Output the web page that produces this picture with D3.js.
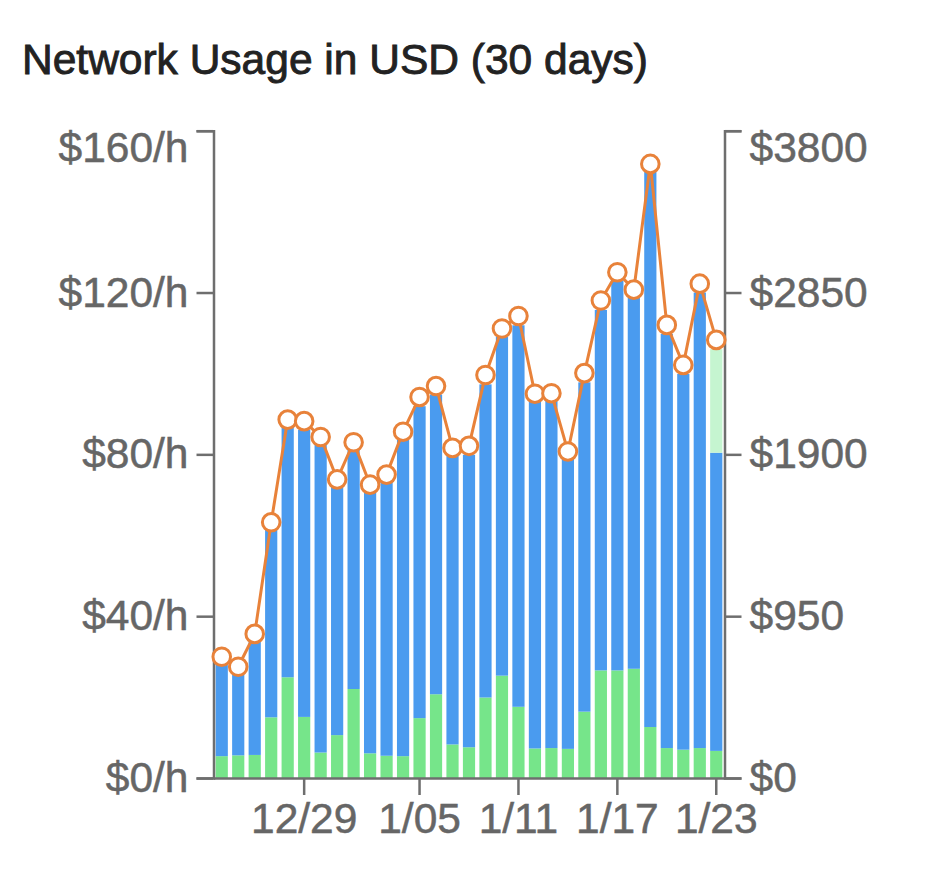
<!DOCTYPE html>
<html>
<head>
<meta charset="utf-8">
<script src="https://cdn.jsdelivr.net/npm/d3@7"></script>
<style>
  body { margin: 0; background: #fff; }
  text { font-family: "Liberation Sans", Arial, sans-serif; }
</style>
</head>
<body>
<div id="chart"></div>
<script>
// days shown on the x axis (12/24 .. 1/23)
const days = ["12/24","12/25","12/26","12/27","12/28","12/29","12/30","12/31","1/01","1/02",
  "1/03","1/04","1/05","1/06","1/07","1/08","1/09","1/10","1/11","1/12",
  "1/13","1/14","1/15","1/16","1/17","1/18","1/19","1/20","1/21","1/22","1/23"];
const tickDays = ["12/29","1/05","1/11","1/17","1/23"];

// hourly cost split ($/h)
const greenVals = [5.4,5.6,5.7,15.0,24.9,15.1,6.3,10.6,22.0,6.1,5.5,5.4,14.8,20.7,8.3,7.6,
  19.9,25.3,17.6,7.3,7.4,7.2,16.4,26.6,26.6,27.0,12.6,7.4,7.0,7.4,6.7];
const blueVals = [23.0,20.7,28.0,46.4,62.1,71.0,76.5,61.5,59.2,64.8,67.8,78.3,77.1,74.1,71.7,72.3,
  77.4,83.8,94.3,85.9,85.8,71.7,81.4,89.1,96.3,91.8,137.5,102.4,92.9,112.6,73.7];
// projected rest of the current day
const projVals = [0,0,0,0,0,0,0,0,0,0,0,0,0,0,0,0,0,0,0,0,0,0,0,0,0,0,0,0,0,0,25.6];
// daily total in USD (right axis)
const dailyVals = [712,653,846,1501,2104,2095,2002,1753,1971,1722,1781,2033,2237,2301,1938,1950,
  2366,2639,2712,2256,2259,1917,2377,2803,2969,2867,3605,2660,2425,2902,2572];

const leftTicks = [0,40,80,120,160];
const rightTicks = [0,950,1900,2850,3800];

const width = 931, height = 896;
const x0 = 213.5, x1 = 724.5, yTop = 130.7, yBot = 778;

const svg = d3.select("#chart").append("svg")
  .attr("width", width).attr("height", height);

svg.append("text")
  .attr("x", 22).attr("y", 74)
  .attr("font-size", 42.5)
  .attr("fill", "#222")
  .attr("stroke", "#222").attr("stroke-width", 0.9)
  .text("Network Usage in USD (30 days)");

const x = d3.scaleBand().domain(days).range([x0, x1])
  .paddingInner(0.26).paddingOuter(0.13);
const y = d3.scaleLinear().domain([0, 160]).range([yBot, yTop]);
const yR = d3.scaleLinear().domain([0, 3800]).range([yBot, yTop]);

const rows = days.map((d, i) => ({ day: d, green: greenVals[i], blue: blueVals[i], proj: projVals[i] }));
const stack = d3.stack().keys(["green", "blue", "proj"])(rows);
const colors = { green: "#76e58a", blue: "#4a9bef", proj: "#c5f5d0" };

svg.append("g").selectAll("g")
  .data(stack)
  .join("g")
    .attr("fill", s => colors[s.key])
  .selectAll("rect")
  .data(s => s)
  .join("rect")
    .attr("x", d => x(d.data.day))
    .attr("width", x.bandwidth())
    .attr("y", d => y(d[1]))
    .attr("height", d => y(d[0]) - y(d[1]));

// axes
function styleAxis(g) {
  g.selectAll("path, line").attr("stroke", "#6e6e6e").attr("stroke-width", 2.5);
  g.selectAll("text").attr("fill", "#666").attr("font-size", 42.5)
    .attr("stroke", "#666").attr("stroke-width", 0.5)
    .attr("font-family", "Liberation Sans, Arial, sans-serif");
}

const gx = svg.append("g").attr("transform", `translate(0,${yBot})`)
  .call(d3.axisBottom(x).tickValues(tickDays).tickSize(17).tickSizeOuter(0).tickPadding(8));
styleAxis(gx);

const gl = svg.append("g").attr("transform", `translate(${x0},0)`)
  .call(d3.axisLeft(y).tickValues(leftTicks).tickSize(17).tickPadding(8).tickFormat(d => "$" + d + "/h"));
styleAxis(gl);
gl.selectAll(".tick").filter(d => d === 160).select("text").attr("y", 17);

const gr = svg.append("g").attr("transform", `translate(${x1},0)`)
  .call(d3.axisRight(yR).tickValues(rightTicks).tickSize(17).tickPadding(8).tickFormat(d => "$" + d));
styleAxis(gr);
gr.selectAll(".tick").filter(d => d === 3800).select("text").attr("y", 17);

// daily total line
const cx = d => x(d) + x.bandwidth() / 2;
const line = d3.line().x((d, i) => cx(days[i])).y(d => yR(d));
svg.append("path")
  .datum(dailyVals)
  .attr("fill", "none")
  .attr("stroke", "#e8823a")
  .attr("stroke-width", 3)
  .attr("d", line);

svg.append("g").selectAll("circle")
  .data(dailyVals)
  .join("circle")
    .attr("cx", (d, i) => cx(days[i]))
    .attr("cy", d => yR(d))
    .attr("r", 8.8)
    .attr("fill", "#fff")
    .attr("stroke", "#e8823a")
    .attr("stroke-width", 3);
</script>
</body>
</html>
